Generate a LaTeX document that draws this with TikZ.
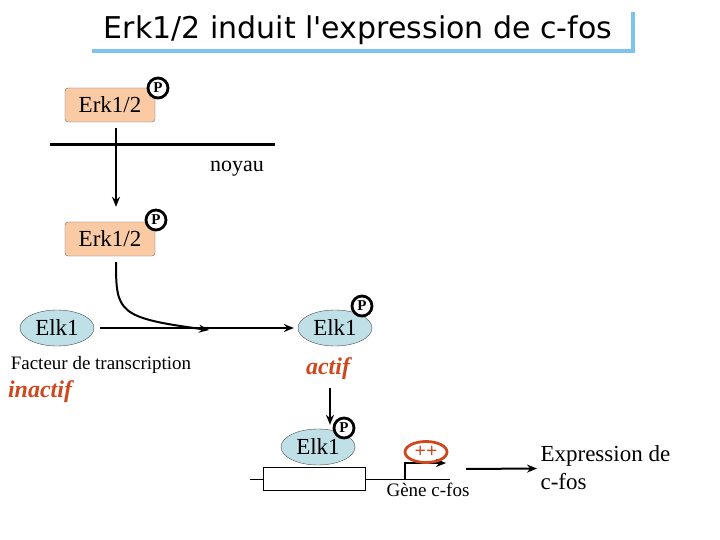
\documentclass[tikz,border=0pt]{standalone}
\usepackage{fontspec}
\setmainfont{Liberation Serif}
\newfontfamily\titlefont{DejaVu Sans}
\usepackage{tikz}
\usetikzlibrary{shapes.geometric,arrows.meta,positioning}
\definecolor{erkfill}{RGB}{250,202,165}
\definecolor{elkfill}{RGB}{190,224,230}
\definecolor{rouge}{RGB}{205,72,30}
\definecolor{ciel}{RGB}{125,195,240}

\begin{document}
\begin{tikzpicture}[x=1pt, y=-1pt, >={Stealth[length=10pt,width=8pt]}]
\tikzstyle{kinase}=[rectangle, rounded corners=3pt, draw=black!60, fill=erkfill,
                    minimum width=90pt, minimum height=34pt,
                    font=\fontsize{23}{26}\selectfont]
\tikzstyle{facteur}=[ellipse, draw=black!70, fill=elkfill,
                     minimum width=74pt, minimum height=36pt, inner sep=0pt,
                     font=\fontsize{23}{26}\selectfont]
\tikzstyle{phospho}=[circle, draw, line width=2.8pt, fill=white,
                     minimum size=20pt, inner sep=0pt,
                     font=\bfseries\fontsize{15}{16}\selectfont]
\tikzstyle{etat}=[text=rouge, font=\bfseries\itshape\fontsize{24}{26}\selectfont]
\tikzstyle{fleche}=[->, line width=2pt]
\useasboundingbox (0,0) rectangle (720,540);

% titre
\node (titre) at (358,30) {\titlefont\fontsize{30}{32}\selectfont Erk1/2 induit l'expression de c-fos};
\draw[ciel, line width=3.5pt] (92,51) -- (633,51) -- (633,12);

% cytoplasme / noyau
\node[kinase] (erkA) at (110,105) {Erk1/2};
\node[phospho] (pA) at (158,88) {P};
\draw[line width=3pt] (50,145) -- (275,145);
\node[font=\fontsize{22}{24}\selectfont] (noyau) at (237,169) {noyau};
\node[kinase] (erkB) at (110,239) {Erk1/2};
\node[phospho] (pB) at (156,220) {P};
\draw[fleche, shorten <=6pt, shorten >=15pt] (erkA.south -| 116,0) -- (erkB.north -| 116,0);

% Elk1
\node[facteur] (elkA) at (57,328) {Elk1};
\node[facteur] (elkB) at (335,328) {Elk1};
\node[phospho] (pC) at (362,306) {P};
\draw[fleche, shorten <=6pt, shorten >=4pt] (elkA) -- (elkB);
\coordinate (relais) at (209,330);
\draw[fleche, shorten <=6pt] (erkB.south -| 116,0) .. controls (116,312) and (118,318) .. (relais);
\node[font=\fontsize{19}{21}\selectfont] (facteur) at (101,365) {Facteur de transcription};
\node[etat] (inactif) at (40,392) {inactif};
\node[etat] (actif) at (328,369) {actif};

% gene c-fos
\node[facteur] (elkC) at (318,447) {Elk1};
\node[phospho] (pD) at (344,428) {P};
\draw[fleche, shorten <=4pt, shorten >=4pt] (actif.south -| 330,0) -- (elkC.north -| 330,0);
\draw[line width=1pt] (250,479) -- (450,479);
\node[rectangle, draw, fill=white, minimum width=102pt, minimum height=23pt] (promoteur) at (314,479) {};
\coordinate (tss) at (405,479);
\draw[->, line width=1.2pt] (tss) |- (446,463);
\node[ellipse, draw=rouge, line width=2.8pt, text=rouge, minimum width=42pt, minimum height=21pt,
      inner sep=0pt, font=\bfseries\fontsize{20}{20}\selectfont] (plus) at (426,452) {++};
\node[font=\fontsize{19}{21}\selectfont] (gene) at (428,490) {Gène c-fos};
\node[anchor=west, align=left, font=\fontsize{23}{28}\selectfont] (expr) at (537,468) {Expression de\\c-fos};
\coordinate (geneFin) at (466,469);
\draw[fleche] (geneFin) -- (expr);
\end{tikzpicture}
\end{document}
